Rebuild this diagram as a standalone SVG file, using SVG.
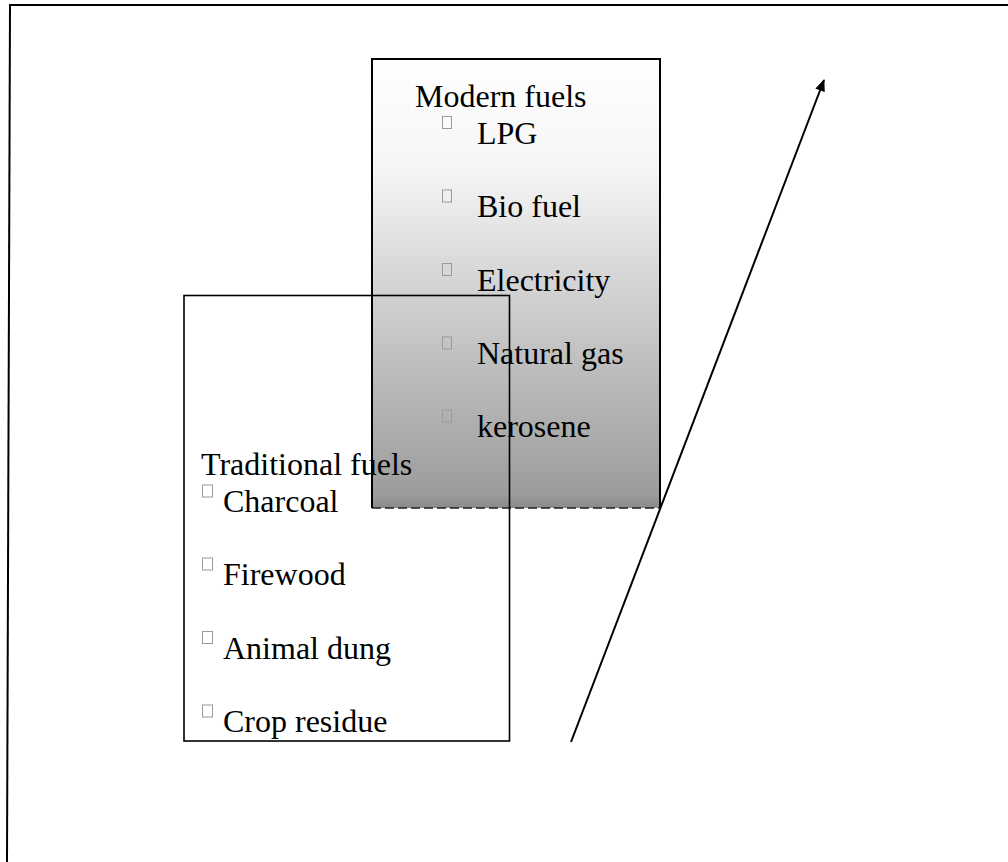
<svg xmlns="http://www.w3.org/2000/svg" width="1008" height="862" viewBox="0 0 1008 862">
  <defs>
    <linearGradient id="modernFill" x1="0" y1="0" x2="0" y2="1">
      <stop offset="0" stop-color="#ffffff"/>
      <stop offset="0.25" stop-color="#f5f5f5"/>
      <stop offset="0.5" stop-color="#d4d4d4"/>
      <stop offset="0.97" stop-color="#9c9c9c"/>
      <stop offset="1" stop-color="#8a8a8a"/>
    </linearGradient>
    <marker id="arrowHead" viewBox="0 0 12 10" refX="11" refY="5" markerWidth="13" markerHeight="10" markerUnits="userSpaceOnUse" orient="auto">
      <path d="M0,0 L12,5 L0,10 z" fill="#000"/>
    </marker>
  </defs>
  <style>
    .label { font-family: "Liberation Serif", "Times New Roman", serif; font-size: 32px; fill: #000; }
    .bullet { fill: none; stroke: #9a9a9a; stroke-width: 1; }
    .frame { fill: none; stroke: #000; stroke-width: 2; }
  </style>

  <rect width="1008" height="862" fill="#fff"/>

  <!-- page frame: top and left rules -->
  <g id="frame">
    <line class="frame" x1="9" y1="5" x2="1008" y2="5"/>
    <line class="frame" x1="10" y1="5" x2="7" y2="862"/>
  </g>

  <!-- modern fuels panel -->
  <g id="modern-fuels">
    <rect x="372" y="59" width="288" height="449" fill="url(#modernFill)"/>
    <path d="M372,508 L372,59 L660,59 L660,508" fill="none" stroke="#000" stroke-width="2"/>
    <line x1="372" y1="508" x2="660" y2="508" stroke="#222" stroke-width="1.5" stroke-dasharray="9 4"/>
  </g>

  <!-- traditional fuels panel -->
  <g id="traditional-fuels">
    <rect x="184" y="295.5" width="325.5" height="445.5" fill="none" stroke="#000" stroke-width="1.6"/>
  </g>

  <!-- modern fuels list -->
  <g id="modern-fuels-text">
    <text class="label" x="415" y="107">Modern fuels</text>
    <rect class="bullet" x="442.5" y="116.5" width="9" height="12"/>
    <text class="label" x="477" y="144">LPG</text>
    <rect class="bullet" x="442.5" y="190" width="9" height="12"/>
    <text class="label" x="477" y="217">Bio fuel</text>
    <rect class="bullet" x="442.5" y="263.5" width="9" height="12"/>
    <text class="label" x="477" y="291">Electricity</text>
    <rect class="bullet" x="442.5" y="337" width="9" height="12"/>
    <text class="label" x="477" y="364">Natural gas</text>
    <rect class="bullet" x="442.5" y="410" width="9" height="12"/>
    <text class="label" x="477" y="437">kerosene</text>
  </g>

  <!-- traditional fuels list -->
  <g id="traditional-fuels-text">
    <text class="label" x="201" y="475">Traditional fuels</text>
    <rect class="bullet" x="202.5" y="485" width="10" height="12"/>
    <text class="label" x="223" y="512">Charcoal</text>
    <rect class="bullet" x="202.5" y="558" width="10" height="12"/>
    <text class="label" x="223" y="585">Firewood</text>
    <rect class="bullet" x="202.5" y="631.5" width="10" height="12"/>
    <text class="label" x="223" y="659">Animal dung</text>
    <rect class="bullet" x="202.5" y="705" width="10" height="12"/>
    <text class="label" x="223" y="732">Crop residue</text>
  </g>

  <!-- transition arrow -->
  <g id="connectors">
    <line x1="571" y1="742" x2="824" y2="80" stroke="#000" stroke-width="2" marker-end="url(#arrowHead)"/>
  </g>
</svg>
